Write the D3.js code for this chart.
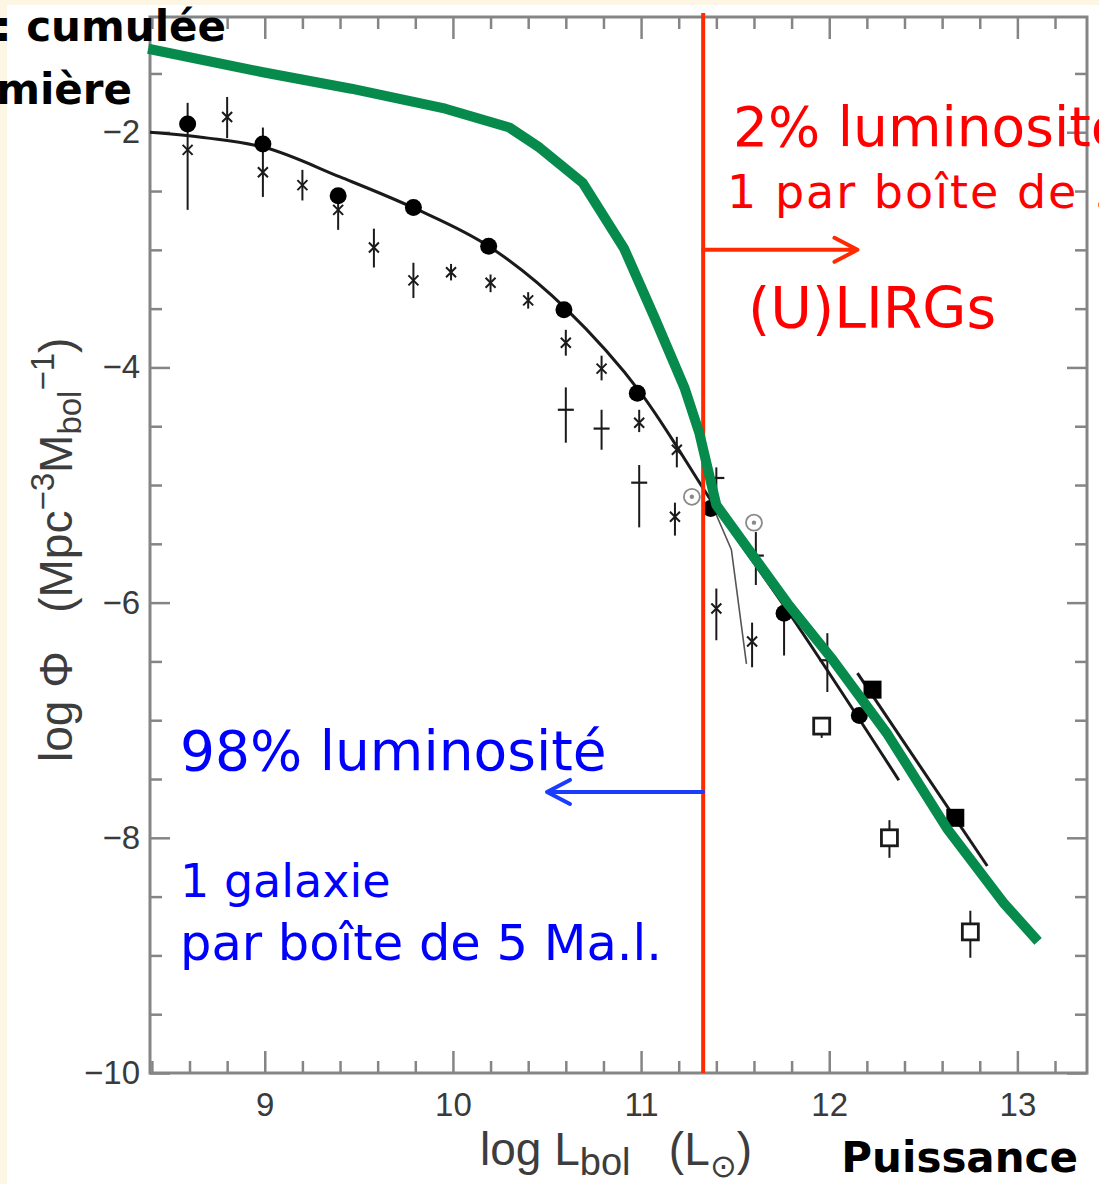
<!DOCTYPE html>
<html>
<head>
<meta charset="utf-8">
<script src="https://cdn.jsdelivr.net/npm/d3@7"></script>
<style>
	body { margin: 0; background: #fef6e4; }
	svg { display: block; }
	text { white-space: pre; }
</style>
</head>
<body>
<script>
// ===== data (log L_bol, log phi) =====
// filled circles
const circleL = [8.59, 8.99, 9.39, 9.79, 10.19, 10.59, 10.98, 11.37, 11.76, 12.16];
const circlePhi = [-1.93, -2.10, -2.54, -2.64, -2.97, -3.51, -4.22, -5.20, -6.09, -6.96];
const circleLo = [null, null, null, null, null, null, null, null, -6.45, null];

// crosses with error bars
const crossL = [8.59, 8.80, 8.99, 9.20, 9.39, 9.58, 9.79, 9.99, 10.20, 10.40, 10.60, 10.79, 10.99, 11.19, 11.18, 11.40, 11.59];
const crossPhi = [-2.15, -1.87, -2.34, -2.45, -2.66, -2.98, -3.26, -3.19, -3.28, -3.43, -3.79, -4.01, -4.47, -4.70, -5.27, -6.05, -6.33];
const crossHi = [-1.75, -1.70, -1.96, -2.32, -2.54, -2.82, -3.11, -3.12, -3.21, -3.36, -3.68, -3.90, -4.36, -4.59, -5.15, -5.88, -6.17];
const crossLo = [-2.66, -2.05, -2.55, -2.58, -2.83, -3.15, -3.41, -3.26, -3.36, -3.50, -3.90, -4.11, -4.55, -4.85, -5.43, -6.32, -6.55];

// plus signs with error bars
const plusL = [10.60, 10.79, 10.99, 11.40, 11.99, 11.61];
const plusPhi = [-4.36, -4.52, -4.98, -4.94, -6.49, -5.60];
const plusHi = [-4.17, -4.36, -4.83, -4.85, -6.26, -5.40];
const plusLo = [-4.64, -4.70, -5.36, -5.05, -6.76, -5.85];

// circled dots
const odotL = [11.27, 11.60];
const odotPhi = [-5.10, -5.32];

// filled squares
const sqFillL = [12.23, 12.67];
const sqFillPhi = [-6.74, -7.83];

// open squares
const sqOpenL = [11.96, 12.32, 12.75];
const sqOpenPhi = [-7.05, -8.00, -8.80];
const sqOpenHi = [-6.98, -7.85, -8.62];
const sqOpenLo = [-7.15, -8.17, -9.02];

// fitted curve and lines
const fitL = [8.39, 8.7, 9.0, 9.4, 9.8, 10.2, 10.6, 11.0, 11.4, 11.8, 12.37];
const fitPhi = [-2.00, -2.05, -2.13, -2.38, -2.65, -2.98, -3.50, -4.22, -5.20, -6.12, -7.51];
const parL = [12.15, 12.84];
const parPhi = [-6.60, -8.24];
const steepL = [11.38, 11.48, 11.56];
const steepPhi = [-5.18, -5.55, -6.52];

// cumulative luminosity (green)
const cumulL = [8.38, 8.99, 9.46, 9.96, 10.30, 10.46, 10.69, 10.91, 11.07, 11.23, 11.31, 11.40, 11.78, 12.02, 12.31, 12.63, 12.93, 13.11];
const cumulPhi = [-1.29, -1.49, -1.63, -1.80, -1.96, -2.13, -2.43, -2.99, -3.57, -4.17, -4.56, -5.17, -6.01, -6.49, -7.12, -7.93, -8.56, -8.88];

// LIRG cut and arrows
const cutL = 11.33;
const arrowRight = { phi: -3.0, to: 12.15 };
const arrowLeft = { phi: -7.61, to: 10.5 };

const xTicks = [9, 10, 11, 12, 13];
const yTicks = [-2, -4, -6, -8, -10];

const svgWidth = 1099;
const svgHeight = 1184;
const plot = { left: 150, right: 1087, top: 17, bottom: 1073 };

// SVG
const svg = d3
	.select("body")
	.append("svg")
	.attr("width", svgWidth)
	.attr("height", svgHeight);

svg.append("rect")
	.attr("x", 7).attr("y", 5)
	.attr("width", svgWidth - 7).attr("height", svgHeight - 5)
	.attr("fill", "#ffffff");

//scale
const xScale = d3.scaleLinear().domain([8.39, 13.37]).range([plot.left, plot.right]);
const yScale = d3.scaleLinear().domain([-10, -1.02]).range([plot.bottom, plot.top]);

//=====
//axes
//=====
const axisColor = "#858585";
const minorX = d3.range(8.4, 13.4, 0.2).map((v) => +v.toFixed(1)).filter((v) => v > 8.39 && v < 13.37 && !Number.isInteger(v));
const minorY = d3.range(-9.5, -1, 0.5).filter((v) => !yTicks.includes(v));

function styleAxis(g) {
	g.select(".domain").remove();
	g.selectAll(".tick line").attr("stroke", axisColor).attr("stroke-width", 2.5);
	g.selectAll(".tick text")
		.attr("fill", "#3a3a3a")
		.attr("font-family", "Liberation Sans, Arial, sans-serif")
		.attr("font-size", 33);
}

svg.append("g")
	.attr("transform", `translate(0, ${plot.bottom})`)
	.call(d3.axisBottom(xScale).tickValues(xTicks).tickSizeInner(-22).tickSizeOuter(0).tickPadding(20).tickFormat(d3.format("d")))
	.call(styleAxis);
svg.append("g")
	.attr("transform", `translate(0, ${plot.bottom})`)
	.call(d3.axisBottom(xScale).tickValues(minorX).tickSizeInner(-12).tickSizeOuter(0).tickFormat(""))
	.call(styleAxis);
svg.append("g")
	.attr("transform", `translate(0, ${plot.top})`)
	.call(d3.axisTop(xScale).tickValues(xTicks).tickSizeInner(-22).tickSizeOuter(0).tickFormat(""))
	.call(styleAxis);
svg.append("g")
	.attr("transform", `translate(0, ${plot.top})`)
	.call(d3.axisTop(xScale).tickValues(minorX).tickSizeInner(-12).tickSizeOuter(0).tickFormat(""))
	.call(styleAxis);

svg.append("g")
	.attr("transform", `translate(${plot.left}, 0)`)
	.call(d3.axisLeft(yScale).tickValues(yTicks).tickSizeInner(-20).tickSizeOuter(0).tickPadding(10).tickFormat(d3.format("d")))
	.call(styleAxis);
svg.append("g")
	.attr("transform", `translate(${plot.left}, 0)`)
	.call(d3.axisLeft(yScale).tickValues(minorY).tickSizeInner(-12).tickSizeOuter(0).tickFormat(""))
	.call(styleAxis);
svg.append("g")
	.attr("transform", `translate(${plot.right}, 0)`)
	.call(d3.axisRight(yScale).tickValues(yTicks).tickSizeInner(-20).tickSizeOuter(0).tickFormat(""))
	.call(styleAxis);
svg.append("g")
	.attr("transform", `translate(${plot.right}, 0)`)
	.call(d3.axisRight(yScale).tickValues(minorY).tickSizeInner(-12).tickSizeOuter(0).tickFormat(""))
	.call(styleAxis);

// frame
svg.append("rect")
	.attr("x", plot.left).attr("y", plot.top)
	.attr("width", plot.right - plot.left).attr("height", plot.bottom - plot.top)
	.attr("fill", "none")
	.attr("stroke", axisColor)
	.attr("stroke-width", 3);

// axis titles
const axisFont = "Liberation Sans, Arial, sans-serif";
const xTitle = svg.append("text")
	.attr("x", 480).attr("y", 1165)
	.attr("font-family", axisFont).attr("font-size", 46).attr("fill", "#3d3d3d");
xTitle.append("tspan").text("log L");
xTitle.append("tspan").attr("font-size", 38).attr("dy", 10).text("bol");
xTitle.append("tspan").attr("dy", -10).text("   (L");
xTitle.append("tspan").attr("font-size", 32).attr("dy", 12).text("⊙");
xTitle.append("tspan").attr("dy", -12).text(")");

const yTitle = svg.append("text")
	.attr("transform", "translate(72, 762) rotate(-90)")
	.attr("font-family", axisFont).attr("font-size", 46).attr("fill", "#3d3d3d");
yTitle.append("tspan").text("log Φ   (Mpc");
yTitle.append("tspan").attr("font-size", 33).attr("dy", -18).text("−3");
yTitle.append("tspan").attr("dy", 18).text("M");
yTitle.append("tspan").attr("font-size", 33).attr("dy", 9).text("bol");
yTitle.append("tspan").attr("font-size", 33).attr("dy", -27).text("−1");
yTitle.append("tspan").attr("dy", 18).text(")");

//=====
//data points
//=====
const ink = "#1a1a1a";
const crosses = crossL.map((l, i) => ({ l, phi: crossPhi[i], hi: crossHi[i], lo: crossLo[i] }));
const pluses = plusL.map((l, i) => ({ l, phi: plusPhi[i], hi: plusHi[i], lo: plusLo[i] }));
const circles = circleL.map((l, i) => ({ l, phi: circlePhi[i], lo: circleLo[i] }));
const openSquares = sqOpenL.map((l, i) => ({ l, phi: sqOpenPhi[i], hi: sqOpenHi[i], lo: sqOpenLo[i] }));

// error bars
const bars = [...crosses, ...pluses, ...openSquares];
svg.selectAll(".err")
	.data(bars)
	.enter()
	.append("line")
	.attr("class", "err")
	.attr("x1", (d) => xScale(d.l)).attr("x2", (d) => xScale(d.l))
	.attr("y1", (d) => yScale(d.hi)).attr("y2", (d) => yScale(d.lo))
	.attr("stroke", ink).attr("stroke-width", 2);

svg.selectAll(".err-circle")
	.data(circles.filter((d) => d.lo !== null))
	.enter()
	.append("line")
	.attr("x1", (d) => xScale(d.l)).attr("x2", (d) => xScale(d.l))
	.attr("y1", (d) => yScale(d.phi)).attr("y2", (d) => yScale(d.lo))
	.attr("stroke", ink).attr("stroke-width", 2);

// x marks
svg.selectAll(".xmark")
	.data(crosses)
	.enter()
	.append("path")
	.attr("class", "xmark")
	.attr("transform", (d) => `translate(${xScale(d.l)}, ${yScale(d.phi)})`)
	.attr("d", "M-5,-5L5,5M-5,5L5,-5")
	.attr("stroke", ink).attr("stroke-width", 2).attr("fill", "none");

// plus caps
svg.selectAll(".plus")
	.data(pluses)
	.enter()
	.append("path")
	.attr("class", "plus")
	.attr("transform", (d) => `translate(${xScale(d.l)}, ${yScale(d.phi)})`)
	.attr("d", "M-8,0L8,0")
	.attr("stroke", ink).attr("stroke-width", 2.2);

// circled dots
svg.selectAll(".odot")
	.data(odotL.map((l, i) => ({ l, phi: odotPhi[i] })))
	.enter()
	.append("g")
	.attr("transform", (d) => `translate(${xScale(d.l)}, ${yScale(d.phi)})`)
	.each(function () {
		d3.select(this).append("circle").attr("r", 8).attr("fill", "#fff").attr("stroke", "#8a8a8a").attr("stroke-width", 1.8);
		d3.select(this).append("circle").attr("r", 2.2).attr("fill", "#8a8a8a");
	});

// open squares
svg.selectAll(".sq-open")
	.data(openSquares)
	.enter()
	.append("rect")
	.attr("x", (d) => xScale(d.l) - 8).attr("y", (d) => yScale(d.phi) - 8)
	.attr("width", 16).attr("height", 16)
	.attr("fill", "#fff").attr("stroke", ink).attr("stroke-width", 2.8);

// fit lines
const line = d3.line().x((d) => xScale(d[0])).y((d) => yScale(d[1]));
svg.append("path")
	.datum(d3.zip(fitL, fitPhi))
	.attr("d", line.curve(d3.curveMonotoneX))
	.attr("stroke", ink).attr("stroke-width", 3).attr("fill", "none");
svg.append("path")
	.datum(d3.zip(parL, parPhi))
	.attr("d", line.curve(d3.curveLinear))
	.attr("stroke", ink).attr("stroke-width", 3).attr("fill", "none");
svg.append("path")
	.datum(d3.zip(steepL, steepPhi))
	.attr("d", line.curve(d3.curveLinear))
	.attr("stroke", "#555").attr("stroke-width", 1.6).attr("fill", "none");

// filled circles
svg.selectAll(".dot")
	.data(circles)
	.enter()
	.append("circle")
	.attr("cx", (d) => xScale(d.l)).attr("cy", (d) => yScale(d.phi))
	.attr("r", 8.5)
	.attr("fill", "#000");

// filled squares
svg.selectAll(".sq-fill")
	.data(sqFillL.map((l, i) => ({ l, phi: sqFillPhi[i] })))
	.enter()
	.append("rect")
	.attr("x", (d) => xScale(d.l) - 9).attr("y", (d) => yScale(d.phi) - 9)
	.attr("width", 18).attr("height", 18)
	.attr("fill", "#000");

//=====
//annotations
//=====
const red = "#ff2a00";
const blue = "#1a3cff";

svg.append("line")
	.attr("x1", xScale(cutL)).attr("x2", xScale(cutL))
	.attr("y1", plot.top - 4).attr("y2", plot.bottom)
	.attr("stroke", red).attr("stroke-width", 4);

function arrow(color, a) {
	const y = yScale(a.phi);
	const x0 = xScale(cutL);
	const x1 = xScale(a.to);
	const dir = x1 > x0 ? -1 : 1;
	svg.append("path")
		.attr("d", `M${x0},${y}L${x1},${y}M${x1 + dir * 23},${y - 12}L${x1},${y}L${x1 + dir * 23},${y + 12}`)
		.attr("stroke", color).attr("stroke-width", 4).attr("fill", "none")
		.attr("stroke-linecap", "round").attr("stroke-linejoin", "round");
}
arrow(red, arrowRight);
arrow(blue, arrowLeft);

// cumulative luminosity
svg.append("path")
	.datum(d3.zip(cumulL, cumulPhi))
	.attr("d", line.curve(d3.curveLinear))
	.attr("stroke", "#078b4c").attr("stroke-width", 10).attr("fill", "none")
	.attr("stroke-linejoin", "round");

const handFont = "Comic Sans MS, DejaVu Sans, sans-serif";
const labels = [
	{ text: "2% luminosité", x: 733, y: 146, size: 55, spacing: 0, color: "#ff0000", anchor: "start", weight: "normal" },
	{ text: "1 par boîte de 30 Ma.l.", x: 727, y: 208, size: 46, spacing: 2, color: "#ff0000", anchor: "start", weight: "normal" },
	{ text: "(U)LIRGs", x: 748, y: 328, size: 57, spacing: 0, color: "#ff0000", anchor: "start", weight: "normal" },
	{ text: "98% luminosité", x: 180, y: 770, size: 55, spacing: 0, color: "#0000ff", anchor: "start", weight: "normal" },
	{ text: "1 galaxie", x: 180, y: 897, size: 46, spacing: 0, color: "#0000ff", anchor: "start", weight: "normal" },
	{ text: "par boîte de 5 Ma.l.", x: 180, y: 960, size: 49.5, spacing: 0, color: "#0000ff", anchor: "start", weight: "normal" },
	{ text: "Luminosité : cumulée", x: 226, y: 41, size: 42, spacing: 0, color: "#000", anchor: "end", weight: "bold" },
	{ text: "de la lumière", x: 132, y: 104, size: 42, spacing: 0, color: "#000", anchor: "end", weight: "bold" },
	{ text: "Puissance", x: 1078, y: 1172, size: 42, spacing: 0, color: "#000", anchor: "end", weight: "bold" }
];
svg.selectAll(".note")
	.data(labels)
	.enter()
	.append("text")
	.attr("class", "note")
	.attr("x", (d) => d.x).attr("y", (d) => d.y)
	.attr("text-anchor", (d) => d.anchor)
	.attr("font-family", handFont)
	.attr("font-size", (d) => d.size)
	.attr("font-weight", (d) => d.weight)
	.attr("letter-spacing", (d) => d.spacing)
	.attr("fill", (d) => d.color)
	.text((d) => d.text);
</script>
</body>
</html>
